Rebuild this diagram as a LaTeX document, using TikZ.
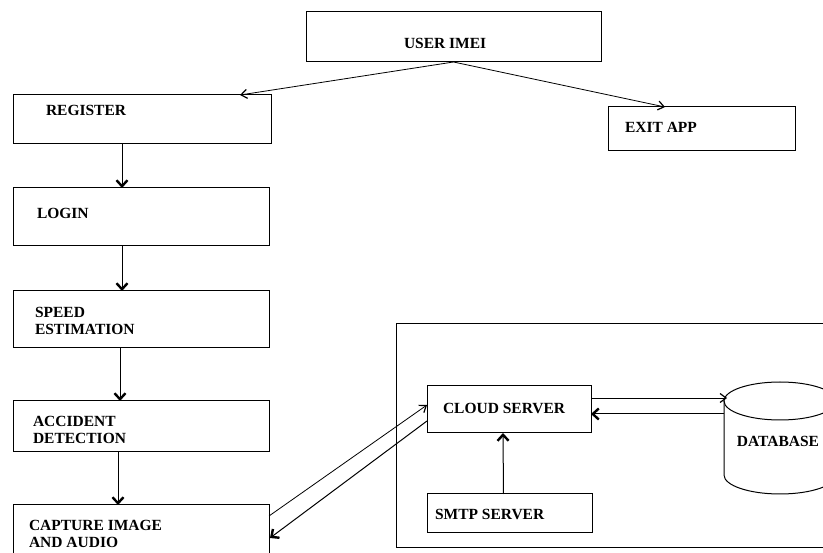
\documentclass[tikz,border=0pt]{standalone}
\usepackage{fontspec}
\setmainfont{Liberation Serif}
\usetikzlibrary{arrows.meta,calc}
\tikzset{
  box/.style={draw, line width=1pt, anchor=north west, inner sep=0pt, outer sep=0pt},
  txt/.style={inner sep=0pt, outer sep=0pt, align=left, font=\fontsize{15.5}{17}\selectfont\bfseries},
  thin arrow/.style={line width=0.8pt, -{Straight Barb[length=6pt,width=9pt,line width=1.2pt]}},
  bold arrow/.style={line width=1pt, -{Straight Barb[length=6pt,width=11pt,line width=2.4pt]}},
}
\begin{document}
\begin{tikzpicture}[x=1pt,y=-1pt]
\useasboundingbox (0,0) rectangle (823,553);
\begin{scope}
\clip (0,0) rectangle (823,553);
% boxes
\node[box, minimum width=295, minimum height=50] (user) at (306,12) {};
\node[txt, anchor=west] at (404,43) {USER IMEI};
\node[box, minimum width=258, minimum height=49] (reg) at (13,95) {};
\node[txt, anchor=west] at (46,110) {REGISTER};
\node[box, minimum width=187, minimum height=44] (exit) at (608,107) {};
\node[txt, anchor=west] at (625,127) {EXIT APP};
\node[box, minimum width=256, minimum height=58] (login) at (13,188) {};
\node[txt, anchor=west] at (37,213) {LOGIN};
\node[box, minimum width=256, minimum height=57] (speed) at (13,291) {};
\node[txt, anchor=north west] at (35,307) {SPEED\\ESTIMATION};
\node[box, minimum width=256, minimum height=51] (acc) at (13,401) {};
\node[txt, anchor=north west] at (33,416) {ACCIDENT\\DETECTION};
\node[box, minimum width=256, minimum height=60] (cap) at (13,505) {};
\node[txt, anchor=north west] at (29,520) {CAPTURE IMAGE\\AND AUDIO};
% container
\node[box, minimum width=440, minimum height=224] (cont) at (396,324) {};
\node[box, minimum width=164, minimum height=47] (cloud) at (427,386) {};
\node[txt, anchor=west] at (443,408) {CLOUD SERVER};
\node[box, minimum width=165, minimum height=39] (smtp) at (427,494) {};
\node[txt, anchor=west] at (435,514) {SMTP SERVER};
% database cylinder
\coordinate (dbc) at (780,401);
\coordinate (dbw) at (724,401);
\draw[line width=1pt] (dbc) ellipse [x radius=56, y radius=19];
\draw[line width=1pt] (724,401) -- (724,475) arc[start angle=180, end angle=0, x radius=56, y radius=19] -- (836,401);
\node[txt] (db) at (778,441) {DATABASE};
\end{scope}
% connectors
\draw[thin arrow] (user.south) -- ($(reg.north west)!0.88!(reg.north east)$);
\draw[thin arrow] (user.south) -- ($(exit.north west)!0.305!(exit.north east)$);
\draw[bold arrow] ($(reg.south west)+(109,0)$) -- ($(login.north west)+(109,0)$);
\draw[bold arrow] ($(login.south west)+(109,0)$) -- ($(speed.north west)+(109,0)$);
\draw[bold arrow] ($(speed.south west)+(107,0)$) -- ($(acc.north west)+(107,0)$);
\draw[bold arrow] ($(acc.south west)+(105,0)$) -- ($(cap.north west)+(105,0)$);
\draw[thin arrow] ($(cap.north east)+(0,11)$) -- ($(cloud.north west)+(0,19)$);
\draw[bold arrow] ($(cloud.north west)+(0,35)$) -- ($(cap.north east)+(1,33)$);
\draw[thin arrow] ($(cloud.north east)+(0,12)$) -- ($(dbw)+(3,-3)$);
\draw[bold arrow] ($(dbw)+(0,13)$) -- ($(cloud.north east)+(0,28)$);
\draw[bold arrow] ($(smtp.north)+(-6,0)$) -- ($(cloud.south)+(-6,0)$);
\end{tikzpicture}
\end{document}
